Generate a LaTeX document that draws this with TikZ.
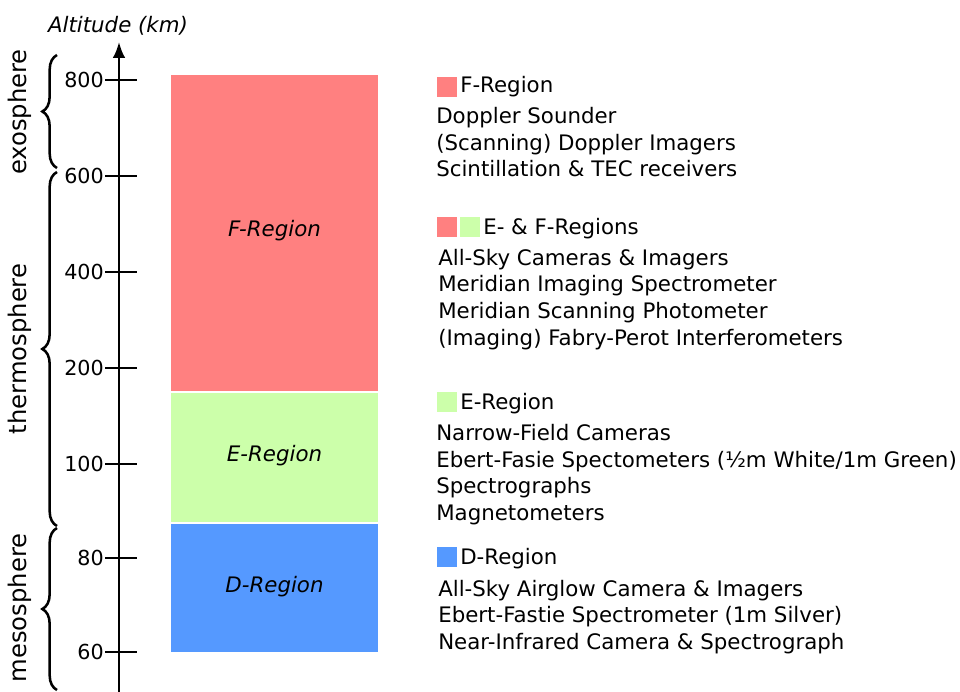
\documentclass[tikz,border=0pt]{standalone}
\usepackage{fontspec}
\setmainfont{DejaVu Sans}
\usetikzlibrary{arrows.meta,decorations.pathreplacing}
\definecolor{fcol}{HTML}{FF8080}
\definecolor{ecol}{HTML}{CCFFAA}
\definecolor{dcol}{HTML}{5599FF}
\tikzset{
  txt/.style={font=\fontsize{16}{19}\selectfont,inner sep=0pt,anchor=base west},
  reg/.style={font=\fontsize{16}{19}\selectfont\itshape,inner sep=0pt},
  layer/.style={font=\fontsize{18.2}{21}\selectfont,inner sep=0pt,rotate=90},
  swatch/.style={minimum size=15pt,inner sep=0pt,anchor=north west},
  brc/.style={decorate,decoration={brace,amplitude=11pt},line width=1.9pt},
}
\begin{document}
\begin{tikzpicture}[x=0.75pt,y=-0.75pt]
\useasboundingbox (0,0) rectangle (960,692);
% region bars
\fill[fcol](171,75) rectangle (378,391);
\fill[ecol](171,393) rectangle (378,522);
\fill[dcol](171,524) rectangle (378,652);
\node[reg] (flab) at (274.5,231){F-Region};
\node[reg] (elab) at (274.5,456){E-Region};
\node[reg] (dlab) at (274.5,587){D-Region};
% altitude axis
\coordinate (base) at (119,692);
\coordinate (top) at (119,42);
\draw[line width=1.8pt,-{Latex[length=12pt,width=9.5pt]}](base)--(top);
\node[reg] (alt) at (118,26){Altitude (km)};
\foreach \v/\y in {800/80,600/176,400/272,200/368,100/464,80/558,60/652}{
  \coordinate (tl\v) at (105,\y);
  \coordinate (tr\v) at (137,\y);
  \draw[line width=1pt](tl\v)--(tr\v);
  \node[txt,font=\fontsize{15.5}{18}\selectfont,anchor=east] (t\v) at (104,\y){\v};
}
% layers
\coordinate (exo1) at (57,168); \coordinate (exo2) at (57,55);
\coordinate (thm1) at (57,526); \coordinate (thm2) at (57,172);
\coordinate (mes1) at (57,690); \coordinate (mes2) at (57,528);
\draw[brc](exo1)--(exo2);
\draw[brc](thm1)--(thm2);
\draw[brc](mes1)--(mes2);
\node[layer] (exo) at (20,112){exosphere};
\node[layer] (thm) at (20,349){thermosphere};
\node[layer] (mes) at (20,608){mesosphere};
% legend
\node[swatch,fill=fcol] (sf) at (437,77){};
\node[txt] (hf) at (460,93){F-Region};
\node[txt] (f1) at (436,123){Doppler Sounder};
\node[txt] (f2) at (436,150){(Scanning) Doppler Imagers};
\node[txt] (f3) at (436,176){Scintillation \& TEC receivers};
\node[swatch,fill=fcol] (sef1) at (437,217){};
\node[swatch,fill=ecol] (sef2) at (460,217){};
\node[txt] (hef) at (483,234){E- \& F-Regions};
\node[txt] (ef1) at (438,265){All-Sky Cameras \& Imagers};
\node[txt] (ef2) at (438,291){Meridian Imaging Spectrometer};
\node[txt] (ef3) at (438,318){Meridian Scanning Photometer};
\node[txt] (ef4) at (438,345){(Imaging) Fabry-Perot Interferometers};
\node[swatch,fill=ecol] (se) at (437,392){};
\node[txt] (he) at (460,409){E-Region};
\node[txt] (e1) at (436,440){Narrow-Field Cameras};
\node[txt] (e2) at (436,467){Ebert-Fasie Spectometers (½m White/1m Green)};
\node[txt] (e3) at (436,493){Spectrographs};
\node[txt] (e4) at (436,520){Magnetometers};
\node[swatch,fill=dcol] (sd) at (437,547){};
\node[txt] (hd) at (460,564){D-Region};
\node[txt] (d1) at (438,596){All-Sky Airglow Camera \& Imagers};
\node[txt] (d2) at (438,622){Ebert-Fastie Spectrometer (1m Silver)};
\node[txt] (d3) at (438,649){Near-Infrared Camera \& Spectrograph};
\end{tikzpicture}
\end{document}
